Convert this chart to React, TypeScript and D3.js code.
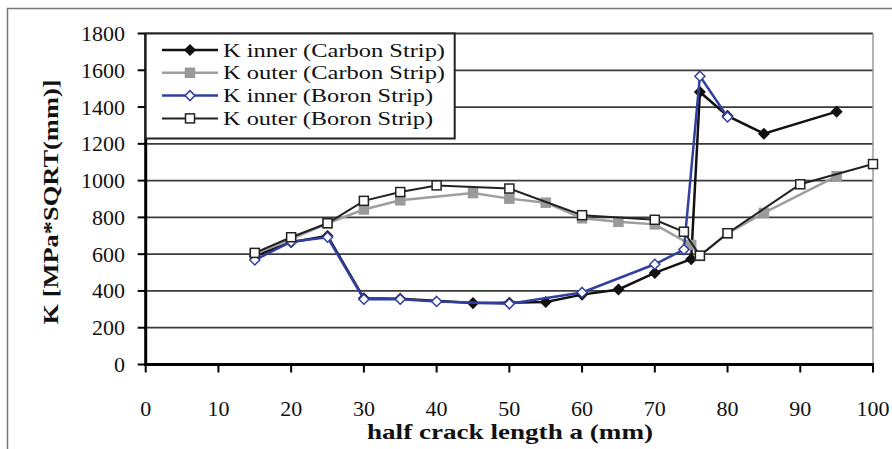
import React from 'react';
import * as d3 from 'd3';

// values
const carbonX = [15, 20, 25, 30, 35, 45, 50, 55, 60, 65, 70, 75, 76.2, 80, 85, 95];
const innerCarbon = [590, 665, 699, 360, 358, 334, 336, 340, 380, 408, 498, 573, 1482, 1352, 1255, 1375];
const outerCarbon = [600, 682, 768, 843, 893, 932, 902, 880, 795, 776, 762, 650, 590, 713, 824, 1024];

const boronInnerX = [15, 20, 25, 30, 35, 40, 50, 60, 70, 74, 76.2, 80];
const innerBoron = [568, 668, 692, 355, 355, 343, 330, 392, 545, 625, 1568, 1346];

const boronOuterX = [15, 20, 25, 30, 35, 40, 50, 60, 70, 74, 76.2, 80, 90, 100];
const outerBoron = [607, 692, 768, 890, 938, 974, 957, 812, 787, 722, 592, 714, 980, 1090];

const xTicks = [0, 10, 20, 30, 40, 50, 60, 70, 80, 90, 100];
const yTicks = [0, 200, 400, 600, 800, 1000, 1200, 1400, 1600, 1800];

const legendLabels = [
  'K inner (Carbon Strip)',
  'K outer (Carbon Strip)',
  'K inner (Boron Strip)',
  'K outer (Boron Strip)',
];

const W = 892;
const H = 449;
const FONT = 'Liberation Serif';

type Pt = { x: number; y: number };

function zip(xs: number[], ys: number[]): Pt[] {
  return xs.map((x, i) => ({ x, y: ys[i] }));
}

const series = [
  { data: zip(carbonX, innerCarbon), color: '#111', marker: 'diamond', fill: '#111', mstroke: '#111', width: 2.5 },
  { data: zip(carbonX, outerCarbon), color: '#9e9e9e', marker: 'square', fill: '#9a9a9a', mstroke: '#9a9a9a', width: 2.5 },
  { data: zip(boronInnerX, innerBoron), color: '#3140a0', marker: 'diamond', fill: '#fff', mstroke: '#3140a0', width: 2.5 },
  { data: zip(boronOuterX, outerBoron), color: '#222', marker: 'square', fill: '#fff', mstroke: '#222', width: 2 },
];

function Marker({ kind, cx, cy, fill, stroke }: { kind: string; cx: number; cy: number; fill: string; stroke: string }) {
  if (kind === 'diamond') {
    const r = 5;
    return (
      <path
        d={`M${cx},${cy - r}L${cx + r},${cy}L${cx},${cy + r}L${cx - r},${cy}Z`}
        fill={fill}
        stroke={stroke}
        strokeWidth={1.5}
      />
    );
  }
  const s = 4.5;
  return <rect x={cx - s} y={cy - s} width={s * 2} height={s * 2} fill={fill} stroke={stroke} strokeWidth={1.5} />;
}

export default function App() {
  const left = 145.7;
  const right = 873;
  const top = 33.5;
  const bottom = 364.5;

  const x = d3.scaleLinear().domain([0, 100]).range([left, right]);
  const y = d3.scaleLinear().domain([0, 1800]).range([bottom, top]);

  const line = d3
    .line<Pt>()
    .x((d) => x(d.x))
    .y((d) => y(d.y));

  const legendRows = [50, 72.8, 95.6, 118.4];
  const textStyle = { fontFamily: FONT };

  return (
    <svg width={W} height={H} style={{ position: 'absolute', left: 0, top: 0, background: '#fff' }}>
      {/* outer frame */}
      <rect x={7.5} y={8.5} width={W} height={H} fill="none" stroke="#777" strokeWidth={1.5} />

      {/* grid */}
      {yTicks.slice(1).map((t) => (
        <line key={t} x1={left} x2={right} y1={y(t)} y2={y(t)} stroke="#3a3a3a" strokeWidth={1.8} />
      ))}
      <line x1={right} x2={right} y1={top} y2={bottom} stroke="#9a9a9a" strokeWidth={1.5} />

      {/* axes */}
      <line x1={left} x2={left} y1={top} y2={bottom + 1.5} stroke="#000" strokeWidth={3} />
      <line x1={left - 1.5} x2={right + 1} y1={bottom} y2={bottom} stroke="#000" strokeWidth={3} />
      {yTicks.map((t) => (
        <g key={t}>
          <line x1={left - 8} x2={left} y1={y(t)} y2={y(t)} stroke="#000" strokeWidth={2} />
          <text x={125} y={y(t)} textAnchor="end" dominantBaseline="central" style={textStyle} fontSize={22} fill="#111">
            {t}
          </text>
        </g>
      ))}
      {xTicks.map((t) => (
        <g key={t}>
          <line x1={x(t)} x2={x(t)} y1={bottom} y2={bottom + 8} stroke="#000" strokeWidth={2} />
          <text x={x(t)} y={408} textAnchor="middle" dominantBaseline="central" style={textStyle} fontSize={22} fill="#111">
            {t}
          </text>
        </g>
      ))}

      {/* axis titles */}
      <text
        x={510}
        y={431}
        textAnchor="middle"
        dominantBaseline="central"
        style={textStyle}
        fontSize={22}
        fontWeight="bold"
        fill="#111"
        textLength={286}
        lengthAdjust="spacingAndGlyphs"
      >
        half crack length a  (mm)
      </text>
      <text
        transform="translate(50,202) rotate(-90)"
        textAnchor="middle"
        dominantBaseline="central"
        style={textStyle}
        fontSize={22}
        fontWeight="bold"
        fill="#111"
        textLength={245}
        lengthAdjust="spacingAndGlyphs"
      >
        K [MPa*SQRT(mm)]
      </text>

      {/* series */}
      {series.map((s, i) => (
        <g key={i}>
          <path d={line(s.data) || ''} fill="none" stroke={s.color} strokeWidth={s.width} />
          {s.data.map((d, j) => (
            <Marker key={j} kind={s.marker} cx={x(d.x)} cy={y(d.y)} fill={s.fill} stroke={s.mstroke} />
          ))}
        </g>
      ))}

      {/* legend */}
      <rect x={left} y={top} width={309} height={105} fill="#fff" stroke="#222" strokeWidth={2} />
      {series.map((s, i) => (
        <g key={i}>
          <line x1={162} x2={218} y1={legendRows[i]} y2={legendRows[i]} stroke={s.color} strokeWidth={s.width} />
          <Marker kind={s.marker} cx={190} cy={legendRows[i]} fill={s.fill} stroke={s.mstroke} />
          <text
            x={223}
            y={legendRows[i]}
            dominantBaseline="central"
            style={textStyle}
            fontSize={19.5}
            fill="#111"
            textLength={i < 2 ? 222 : 210}
            lengthAdjust="spacingAndGlyphs"
          >
            {legendLabels[i]}
          </text>
        </g>
      ))}
    </svg>
  );
}
